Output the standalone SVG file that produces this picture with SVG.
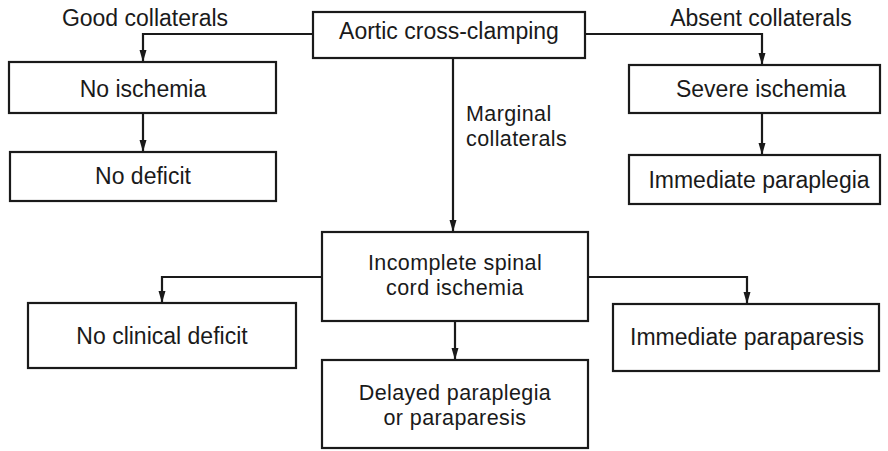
<svg xmlns="http://www.w3.org/2000/svg" width="888" height="451" viewBox="0 0 888 451">
<style>
.box{fill:#fff;stroke:#1a1a1a;stroke-width:2.2}
.t{font-family:"Liberation Sans",Arial,Helvetica,sans-serif;font-size:23px;fill:#1a1a1a;text-anchor:middle}
.t2{font-family:"Liberation Sans",Arial,Helvetica,sans-serif;font-size:21.5px;letter-spacing:0.4px;fill:#1a1a1a;text-anchor:middle}
.l{font-family:"Liberation Sans",Arial,Helvetica,sans-serif;font-size:21.5px;letter-spacing:0.4px;fill:#1a1a1a}
.c{fill:none;stroke:#1a1a1a;stroke-width:2.2}
</style>
<defs>
<marker id="ad" markerUnits="userSpaceOnUse" markerWidth="12" markerHeight="8" refX="11" refY="4" orient="auto" viewBox="0 0 12 8">
<path d="M0,0.5 L12,4 L0,7.5 Z" fill="#1a1a1a"/>
</marker>
</defs>
<rect width="888" height="451" fill="#fff"/>
<g id="connectors">
<path class="c" d="M313,34 H143 V61" marker-end="url(#ad)"/>
<path class="c" d="M585,34 H762 V64" marker-end="url(#ad)"/>
<path class="c" d="M143,113 V151" marker-end="url(#ad)"/>
<path class="c" d="M762,113 V154" marker-end="url(#ad)"/>
<path class="c" d="M453,58 V231" marker-end="url(#ad)"/>
<path class="c" d="M322,277 H162 V302" marker-end="url(#ad)"/>
<path class="c" d="M588,277 H747 V303" marker-end="url(#ad)"/>
<path class="c" d="M455,321 V359" marker-end="url(#ad)"/>
<text class="t" x="145" y="26">Good collaterals</text>
<text class="t" x="761" y="26">Absent collaterals</text>
<text class="l" x="466" y="121">Marginal</text>
<text class="l" x="466" y="146">collaterals</text>
</g>
<g id="aortic">
<rect class="box" x="313" y="12" width="272" height="46"/>
<text class="t" x="449" y="39">Aortic cross-clamping</text>
</g>
<g id="no-ischemia">
<rect class="box" x="9" y="62" width="267" height="51"/>
<text class="t" x="143" y="97">No ischemia</text>
</g>
<g id="no-deficit">
<rect class="box" x="10" y="152" width="266" height="49"/>
<text class="t" x="143" y="184">No deficit</text>
</g>
<g id="severe-ischemia">
<rect class="box" x="629" y="65" width="251" height="48"/>
<text class="t" x="761" y="97">Severe ischemia</text>
</g>
<g id="immediate-paraplegia">
<rect class="box" x="629" y="155" width="251" height="49"/>
<text class="t" x="759" y="188">Immediate paraplegia</text>
</g>
<g id="incomplete">
<rect class="box" x="322" y="232" width="266" height="89"/>
<text class="t2" x="455" y="270">Incomplete spinal</text>
<text class="t2" x="455" y="295">cord ischemia</text>
</g>
<g id="no-clinical-deficit">
<rect class="box" x="28" y="303" width="268" height="65"/>
<text class="t" x="162" y="344">No clinical deficit</text>
</g>
<g id="immediate-paraparesis">
<rect class="box" x="613" y="304" width="266" height="67"/>
<text class="t" x="747" y="345">Immediate paraparesis</text>
</g>
<g id="delayed">
<rect class="box" x="322" y="360" width="266" height="88"/>
<text class="t2" x="455" y="400">Delayed paraplegia</text>
<text class="t2" x="455" y="425">or paraparesis</text>
</g>
</svg>
